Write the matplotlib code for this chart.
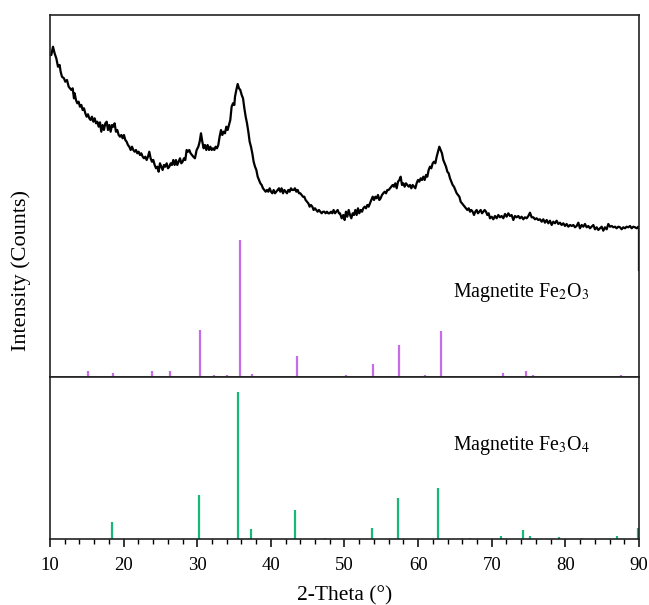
import matplotlib
matplotlib.use('Agg')
import matplotlib.pyplot as plt
from matplotlib.ticker import MultipleLocator

plt.rcParams['font.family'] = ['Liberation Serif', 'DejaVu Serif']
plt.rcParams['mathtext.fontset'] = 'stix'

# ---- measured XRD pattern (2-theta in degrees, intensity in a.u.) ----
two_theta = [
    10.05, 10.18, 10.41, 10.63, 10.86, 11.09, 11.31, 11.45, 11.63, 11.90, 12.08, 12.31, 12.54, 12.72, 12.90,
    13.08, 13.26, 13.35, 13.53, 13.71, 13.89, 14.07, 14.26, 14.44, 14.62, 14.80, 14.98, 15.16, 15.34, 15.52,
    15.70, 15.89, 16.07, 16.25, 16.43, 16.61, 16.79, 16.97, 17.15, 17.33, 17.52, 17.70, 17.88, 18.06, 18.24,
    18.42, 18.60, 18.78, 18.96, 19.14, 19.33, 19.51, 19.69, 19.87, 20.05, 20.23, 20.41, 20.59, 20.77, 20.96,
    21.14, 21.32, 21.50, 21.68, 21.86, 22.04, 22.22, 22.40, 22.59, 22.77, 22.95, 23.13, 23.31, 23.49, 23.67,
    23.85, 24.03, 24.22, 24.40, 24.58, 24.76, 24.94, 25.12, 25.30, 25.48, 25.66, 25.85, 26.03, 26.21, 26.39,
    26.57, 26.75, 26.93, 27.11, 27.29, 27.47, 27.66, 27.84, 28.02, 28.20, 28.38, 28.56, 28.74, 28.92, 29.10,
    29.29, 29.47,
    29.69, 29.92, 30.15, 30.33, 30.51, 30.69, 30.87, 31.05, 31.23, 31.41, 31.60, 31.78, 31.96, 32.14, 32.32,
    32.50, 32.68, 32.86, 33.04, 33.23, 33.41, 33.59, 33.77, 33.95, 34.13, 34.31, 34.49, 34.67, 34.86, 35.04,
    35.13, 35.31, 35.49, 35.67, 35.85, 36.04, 36.22, 36.40, 36.58, 36.76, 36.94, 37.12, 37.30, 37.48, 37.66,
    37.85, 38.03, 38.21, 38.39, 38.57, 38.75, 38.93, 39.11, 39.29, 39.47, 39.65, 39.84, 40.02, 40.20, 40.38,
    40.56, 40.74, 40.92, 41.10, 41.28, 41.46, 41.65, 41.83, 42.01, 42.19, 42.37, 42.55, 42.73, 42.91, 43.09,
    43.27, 43.46, 43.64, 43.82, 44.00, 44.18, 44.36, 44.54, 44.72, 44.90, 45.09, 45.27, 45.45, 45.63, 45.81,
    45.99, 46.17, 46.35, 46.53, 46.71, 46.90, 47.08, 47.26, 47.44, 47.62, 47.80, 47.98, 48.16, 48.34, 48.52,
    48.71, 48.89, 49.07, 49.25,
    49.39, 49.62, 49.84, 50.02, 50.20, 50.38, 50.57, 50.75, 50.93, 51.11, 51.29, 51.47, 51.65, 51.83, 52.01,
    52.20, 52.38, 52.56, 52.74, 52.92, 53.10, 53.28, 53.46, 53.64, 53.83, 54.01, 54.19, 54.37, 54.55, 54.73,
    54.91, 55.09, 55.27, 55.46, 55.64, 55.82, 56.00, 56.18, 56.36, 56.54, 56.72, 56.90, 57.09, 57.27, 57.45,
    57.63, 57.81, 57.99, 58.17, 58.35, 58.53, 58.72, 58.90, 59.08, 59.26, 59.44, 59.62, 59.80, 59.98, 60.16,
    60.35, 60.53, 60.71, 60.89, 61.07, 61.25, 61.43, 61.61, 61.79, 61.98, 62.16, 62.34, 62.52, 62.70, 62.88,
    63.06, 63.24, 63.42, 63.61, 63.79, 63.97, 64.15, 64.33, 64.51, 64.69, 64.87, 65.05, 65.24, 65.42, 65.60,
    65.78, 65.96, 66.14, 66.32, 66.50, 66.68, 66.87, 67.05, 67.23, 67.41, 67.59, 67.77, 67.95, 68.13, 68.31,
    68.50, 68.68, 68.86, 69.04, 69.22, 69.40, 69.58,
    69.76, 69.99, 70.21, 70.44, 70.67, 70.89, 71.12, 71.34, 71.57, 71.80, 72.02, 72.25, 72.48, 72.70, 72.93,
    73.16, 73.38, 73.61, 73.83, 74.06, 74.29, 74.51, 74.74, 74.97, 75.19, 75.42, 75.65, 75.87, 76.10, 76.32,
    76.55, 76.78, 77.00, 77.23, 77.46, 77.68, 77.91, 78.14, 78.36, 78.59, 78.81, 79.04, 79.27, 79.49, 79.72,
    79.95, 80.17, 80.40, 80.63, 80.85, 81.08, 81.31, 81.53, 81.76, 81.98, 82.21, 82.44, 82.66, 82.89, 83.12,
    83.34, 83.57, 83.80, 84.02, 84.25, 84.47, 84.70, 84.93, 85.15, 85.38, 85.61, 85.83, 86.06, 86.29, 86.51,
    86.74, 86.96, 87.19, 87.42, 87.64, 87.87, 88.10, 88.32, 88.55, 88.78, 89.00, 89.23, 89.46, 89.68, 89.91,
    90.00, 90.00,
]
intensity = [
    322.0, 322.0, 330.3, 323.7, 318.7, 310.3, 312.0, 305.3, 300.3, 298.7, 295.3, 297.0, 290.3, 288.7, 287.0,
    288.7, 278.7, 283.7, 277.0, 273.7, 275.3, 270.3, 272.0, 267.0, 268.7, 263.7, 260.3, 262.7, 258.7, 257.0,
    260.3, 255.3, 258.7, 253.7, 255.3, 250.3, 254.7, 245.3, 252.0, 247.0, 253.7, 255.3, 247.0, 252.0, 245.3,
    252.0, 250.3, 253.7, 245.3, 247.0, 242.0, 240.3, 242.0, 238.7, 242.0, 237.0, 235.3, 232.0, 230.3, 227.0,
    230.3, 227.0, 225.3, 227.0, 223.7, 225.3, 222.0, 223.7, 220.3, 218.7, 220.3, 217.0, 220.3, 225.3, 218.7,
    215.3, 217.0, 212.0, 208.7, 210.3, 205.3, 213.7, 210.3, 207.0, 212.0, 210.3, 213.7, 208.7, 210.3, 213.7,
    212.0, 217.0, 212.0, 217.0, 212.0, 215.3, 218.7, 213.7, 215.3, 218.7, 217.0, 227.0, 225.3, 227.0, 223.7,
    222.0, 220.3,
    218.7, 227.0, 230.3, 235.3, 243.7, 235.3, 228.7, 232.0, 227.0, 232.0, 227.0, 230.3, 227.0, 228.7, 227.0,
    230.3, 228.7, 232.0, 240.3, 247.0, 242.0, 245.3, 243.7, 250.3, 247.0, 252.0, 257.0, 270.3, 273.7, 272.0,
    280.3, 287.0, 293.0, 288.7, 287.0, 282.0, 278.7, 268.7, 260.3, 253.7, 245.3, 235.3, 230.3, 223.7, 215.3,
    210.3, 207.0, 200.3, 197.0, 193.7, 192.0, 188.7, 187.0, 185.3, 187.0, 185.3, 188.7, 185.3, 183.7, 187.0,
    183.7, 185.3, 187.0, 188.7, 185.3, 188.7, 183.7, 187.0, 185.3, 183.7, 187.0, 185.3, 188.7, 187.0, 187.0,
    188.7, 185.3, 187.0, 183.7, 183.7, 182.0, 180.3, 180.3, 177.0, 175.3, 173.7, 170.3, 172.0, 170.3, 167.0,
    168.7, 167.0, 165.3, 167.0, 165.3, 163.7, 165.3, 165.3, 163.7, 165.3, 163.7, 163.7, 165.3, 163.7, 167.0,
    163.7, 165.3, 167.0, 163.7,
    163.7, 158.7, 162.0, 157.0, 165.3, 160.3, 167.0, 162.0, 158.7, 163.7, 162.0, 167.0, 162.0, 168.7, 163.7,
    167.0, 165.3, 168.7, 170.3, 168.7, 172.0, 170.3, 173.7, 177.0, 180.3, 177.0, 180.3, 178.7, 182.0, 177.0,
    178.7, 182.0, 183.7, 185.3, 183.7, 187.0, 187.0, 188.7, 190.3, 192.0, 190.3, 193.7, 188.7, 195.3, 197.0,
    200.3, 192.0, 193.7, 190.3, 193.7, 192.0, 190.3, 192.0, 188.7, 192.0, 190.3, 188.7, 193.7, 197.0, 195.3,
    198.7, 197.0, 200.3, 197.0, 202.0, 200.3, 207.0, 210.3, 208.7, 213.7, 215.3, 213.7, 220.3, 225.3, 230.3,
    227.0, 223.7, 217.0, 213.7, 210.3, 205.3, 203.7, 198.7, 195.3, 192.0, 190.3, 187.0, 183.7, 182.0, 180.3,
    175.3, 173.7, 172.0, 170.3, 168.7, 167.0, 168.7, 165.3, 167.0, 165.3, 162.0, 165.3, 167.0, 163.7, 165.3,
    167.0, 163.7, 165.3, 167.0, 165.3, 162.0, 163.7,
    158.7, 160.3, 157.7, 161.0, 158.7, 162.0, 159.7, 161.0, 158.7, 163.0, 160.3, 163.7, 161.0, 162.0, 157.0,
    161.0, 159.7, 161.0, 158.7, 160.3, 157.7, 159.7, 158.7, 161.0, 164.3, 159.7, 159.7, 157.7, 158.7, 157.0,
    157.7, 155.3, 157.7, 154.3, 157.0, 153.7, 156.3, 152.0, 155.3, 153.7, 156.3, 153.0, 154.3, 152.0, 153.7,
    151.0, 153.0, 150.3, 152.0, 151.0, 152.0, 149.7, 151.0, 154.3, 148.7, 152.0, 150.3, 153.0, 149.7, 151.0,
    148.7, 150.3, 152.0, 147.7, 149.7, 147.0, 148.7, 150.3, 146.3, 149.7, 147.7, 153.0, 150.3, 151.0, 149.7,
    150.3, 148.7, 150.3, 149.7, 147.7, 149.7, 148.7, 150.3, 149.7, 151.0, 148.7, 150.3, 149.7, 148.7, 150.3,
    149.0, 107.0,
]

# ---- reference patterns (2-theta, relative intensity %) ----
fe2o3_pos = [15.1, 18.6, 23.9, 26.3, 30.4, 32.3, 34.0, 35.8, 37.4, 39.0, 40.6, 43.5, 44.9, 50.2, 53.9,
             55.1, 56.3, 57.4, 59.8, 60.9, 63.1, 64.2, 65.2, 68.4, 69.5, 71.5, 72.6, 74.6, 75.6, 79.6,
             81.5, 87.5]
fe2o3_int = [4.4, 3.2, 4.4, 4.4, 34.5, 1.5, 1.5, 100.0, 2.4, 0.7, 0.7, 15.6, 0.7, 1.5, 9.7,
             0.7, 0.7, 23.4, 0.7, 1.5, 33.8, 0.7, 0.7, 0.7, 0.7, 2.7, 0.7, 4.4, 1.5, 0.7,
             0.7, 1.5]

fe3o4_pos = [18.4, 30.2, 35.6, 37.3, 43.3, 47.3, 53.7, 57.2, 62.7, 66.0, 67.0, 71.3, 74.2, 75.2,
             79.2, 82.2, 87.0, 89.9]
fe3o4_int = [11.4, 30.2, 100.0, 6.6, 19.7, 0.5, 7.8, 27.7, 34.8, 0.5, 0.5, 2.1, 5.9, 1.8,
             1.1, 0.5, 2.3, 7.8]

xticks = [10, 20, 30, 40, 50, 60, 70, 80, 90]
label_fe2o3 = 'Magnetite Fe$_2$O$_3$'
label_fe3o4 = 'Magnetite Fe$_3$O$_4$'

purple = '#C66CE6'
green = '#17B878'

fig = plt.figure(figsize=(6.49, 6.05), dpi=100)
ax1 = fig.add_axes([0.0770, 0.3769, 0.9076, 0.5983])
ax2 = fig.add_axes([0.0770, 0.1091, 0.9076, 0.2678])

# top panel
ax1.plot(two_theta, intensity, color='black', lw=1.6)
ax1.vlines(fe2o3_pos, 0, [v * 1.37 for v in fe2o3_int], color=purple, lw=1.6)
ax1.set_xlim(10, 90)
ax1.set_ylim(0, 362)
ax1.set_xticks([])
ax1.set_yticks([])
ax1.text(64.74, 80, label_fe2o3, fontsize=14.3, ha='left', va='baseline')

# bottom panel
ax2.vlines(fe3o4_pos, 0, [v * 1.47 for v in fe3o4_int], color=green, lw=1.6)
ax2.set_xlim(10, 90)
ax2.set_ylim(0, 162)
ax2.set_yticks([])
ax2.set_xticks(xticks)
ax2.xaxis.set_minor_locator(MultipleLocator(2))
ax2.tick_params(axis='x', which='major', direction='out', length=6, width=1.1, labelsize=13.5, pad=7)
ax2.tick_params(axis='x', which='minor', direction='out', length=3.5, width=1.0)
ax2.text(64.74, 89, label_fe3o4, fontsize=14.3, ha='left', va='baseline')
ax2.set_xlabel('2-Theta (°)', fontsize=15.5, labelpad=9)

for ax in (ax1, ax2):
    for s in ax.spines.values():
        s.set_linewidth(1.2)
        s.set_color('#222222')

fig.text(0.032, 1 - 270 / 605, 'Intensity (Counts)', rotation=90, fontsize=16, ha='center', va='center')

fig.savefig('out.png', dpi=100)
